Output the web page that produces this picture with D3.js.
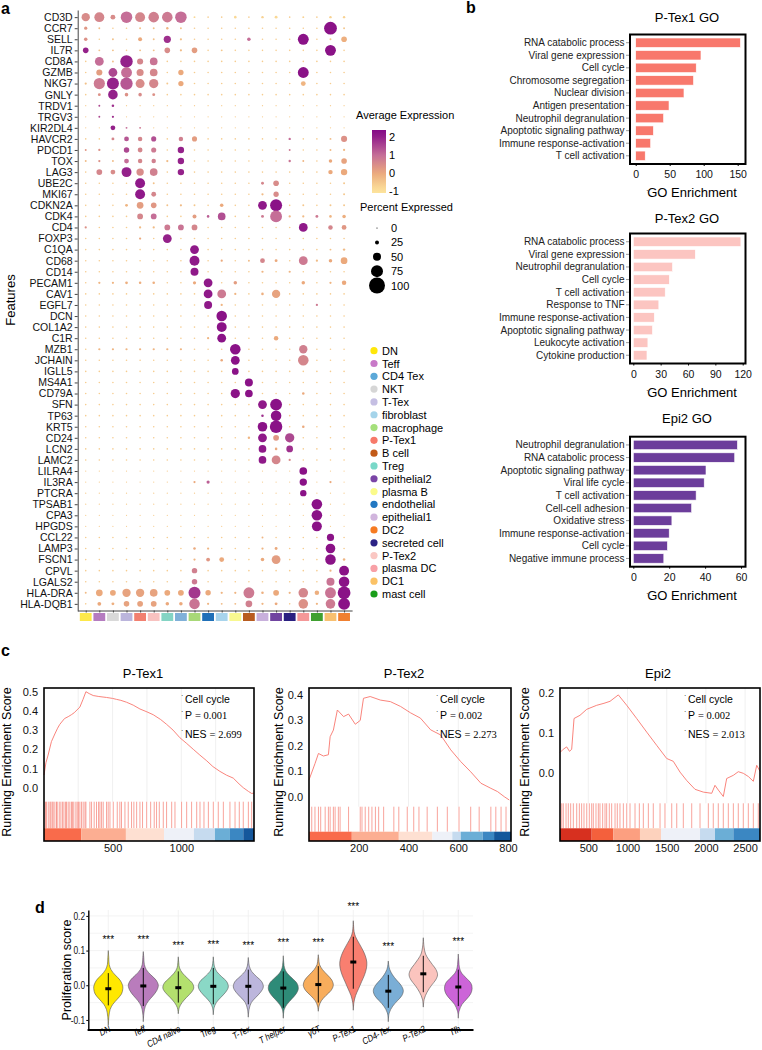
<!DOCTYPE html>
<html>
<head>
<meta charset="utf-8">
<script src="https://cdn.jsdelivr.net/npm/d3@7"></script>
<style>
  body { margin: 0; background: #fff; }
  text { font-family: "Liberation Sans", Arial, sans-serif; }
</style>
</head>
<body>
<div id="fig"></div>
<script>
// ---------- panel a : dot plot ----------
const genes = ["CD3D","CCR7","SELL","IL7R","CD8A","GZMB","NKG7","GNLY","TRDV1","TRGV3","KIR2DL4","HAVCR2","PDCD1","TOX","LAG3","UBE2C","MKI67","CDKN2A","CDK4","CD4","FOXP3","C1QA","CD68","CD14","PECAM1","CAV1","EGFL7","DCN","COL1A2","C1R","MZB1","JCHAIN","IGLL5","MS4A1","CD79A","SFN","TP63","KRT5","CD24","LCN2","LAMC2","LILRA4","IL3RA","PTCRA","TPSAB1","CPA3","HPGDS","CCL22","LAMP3","FSCN1","CPVL","LGALS2","HLA-DRA","HLA-DQB1"];

const cellTypes = ["DN","Teff","NKT","T-Tex","P-Tex1","P-Tex2","Treg","CD4 Tex","macrophage","endothelial","fibroblast","plasma B","B cell","epithelial1","epithelial2","secreted cell","plasma DC","mast cell","DC1","DC2"];
const stripColors = ["#fde84a","#b57cc0","#d9d9d9","#bbb5dc","#f28070","#f8c2c0","#84d4c4","#80b0d8","#a8d878","#2070b8","#a8d4ec","#f8f890","#b85c20","#c8b0dc","#7044a0","#2a2080","#f49898","#40a030","#f8c070","#f08030"];

const legendTypes = ["DN","Teff","CD4 Tex","NKT","T-Tex","fibroblast","macrophage","P-Tex1","B cell","Treg","epithelial2","plasma B","endothelial","epithelial1","DC2","secreted cell","P-Tex2","plasma DC","DC1","mast cell"];
const legendColors = ["#ffe70a","#c879c8","#5ba8d8","#d6d6d6","#c5bfe3","#a5d4ea","#a5e07b","#f7796a","#c25a17","#79d8c8","#7a44a6","#fbfb8a","#2278c2","#d1b5dd","#f67b22","#2b2285","#fac7c3","#f8a0a6","#fbc266","#1a9e1a"];

// percent expressed, one row per gene, columns in cellTypes order
const pctRows = [
  [52,62,30,72,62, 66,66,72,12,10, 10,16,10,15,18, 10,12,10,15,15],
  [20,12,10,10,12, 12,15,12,10,10, 10,10,10,10,10, 10,10,10,80,12],
  [22,10,12,10,25, 12,45,14,10,10, 10,10,22,10,10, 10,68,10,12,35],
  [35,12,12,10,12, 12,35,14,35,10, 12,10,10,10,10, 10,10,10,68,10],
  [10,55,12,78,38, 48,10,10,10,10, 10,10,10,10,10, 10,10,10,10,10],
  [10,38,55,68,44, 48,10,33,10,10, 10,10,10,10,10, 10,68,10,10,10],
  [14,70,75,77,56, 58,12,33,10,10, 10,10,10,10,10, 10,30,10,10,10],
  [10,18,60,22,22, 18,10,10,10,10, 10,10,10,10,10, 10,10,10,10,10],
  [8,12,16,8,8, 8,8,8,8,8, 8,8,8,8,8, 8,8,8,8,8],
  [8,12,14,8,8, 8,8,8,8,8, 8,8,8,8,8, 8,8,8,8,8],
  [8,8,30,12,12, 8,8,8,8,8, 8,8,8,8,8, 8,8,8,8,8],
  [10,10,18,30,28, 32,10,28,32,10, 10,10,10,10,10, 15,10,10,12,38],
  [12,14,10,34,30, 32,10,40,10,10, 10,10,10,10,10, 12,10,10,12,14],
  [12,14,12,30,28, 28,14,40,10,10, 10,10,10,10,10, 15,12,10,22,35],
  [10,36,30,62,46, 48,10,40,10,10, 10,10,10,10,10, 10,10,10,28,40],
  [10,10,10,10,62, 12,10,10,10,10, 10,10,10,18,35, 10,10,10,10,12],
  [10,10,10,10,62, 30,10,10,10,10, 10,10,10,14,33, 10,10,10,10,12],
  [10,10,10,18,42, 35,12,14,12,10, 22,10,10,55,75, 10,12,10,12,12],
  [10,10,10,10,36, 36,10,10,25,16, 48,10,10,18,74, 14,14,18,16,22],
  [14,10,10,10,14, 14,36,36,36,10, 10,10,10,10,10, 10,55,10,28,30],
  [10,10,10,10,14, 10,55,10,10,10, 10,10,10,10,10, 10,10,10,10,10],
  [10,10,10,10,10, 10,10,10,55,10, 10,10,10,10,10, 10,10,10,12,15],
  [10,10,10,10,10, 10,10,10,62,10, 14,10,12,30,18, 10,55,14,22,42],
  [10,10,10,10,10, 10,10,10,50,10, 10,10,10,14,10, 14,10,10,10,10],
  [10,14,14,17,16, 16,10,10,20,55, 10,22,10,10,10, 10,22,10,14,28],
  [10,10,10,10,10, 10,10,10,10,55, 55,14,10,16,52, 10,10,10,10,10],
  [10,10,10,10,10, 10,10,10,10,50, 14,10,10,10,10, 10,10,14,10,10],
  [10,10,10,10,10, 10,10,10,10,10, 66,10,10,10,10, 10,10,10,10,10],
  [10,10,10,10,10, 10,10,10,10,10, 62,10,10,10,10, 10,10,10,10,10],
  [10,10,10,10,10, 10,10,10,10,14, 55,10,10,10,28, 10,10,10,10,10],
  [10,14,14,14,14, 14,14,14,10,10, 10,66,10,10,10, 10,52,10,10,10],
  [10,10,10,10,10, 10,10,10,10,10, 16,55,10,10,10, 10,66,10,10,10],
  [10,10,10,10,10, 10,10,10,10,10, 10,42,10,10,10, 10,10,10,10,10],
  [10,10,10,10,10, 10,10,10,10,10, 10,10,50,10,10, 10,10,10,10,10],
  [10,10,10,10,10, 10,10,10,10,10, 10,58,48,10,10, 10,16,10,10,10],
  [10,10,10,10,10, 10,10,10,10,10, 10,10,10,55,74, 10,10,10,10,10],
  [10,10,10,10,10, 10,10,10,10,10, 10,10,10,16,66, 10,10,10,10,10],
  [10,10,10,10,10, 10,10,10,10,10, 10,10,10,60,78, 10,16,10,10,10],
  [10,10,10,10,10, 10,10,10,10,10, 10,10,15,55,36, 58,10,10,10,10],
  [10,10,10,10,10, 10,10,10,10,10, 10,10,10,48,16, 42,10,10,10,10],
  [10,10,10,10,10, 10,10,10,10,10, 10,10,10,48,55, 14,10,10,10,10],
  [8,8,8,8,8, 8,8,8,8,8, 8,8,8,8,8, 8,48,8,8,8],
  [8,8,8,8,8, 8,8,8,14,20, 8,8,8,8,8, 8,46,8,14,8],
  [8,8,8,8,8, 8,8,8,8,8, 8,8,8,8,8, 8,40,8,8,8],
  [8,8,8,8,8, 8,8,8,8,8, 8,8,8,8,8, 8,8,66,8,8],
  [8,8,8,8,8, 8,8,8,8,8, 8,8,8,8,8, 8,8,66,8,8],
  [8,8,8,8,8, 8,8,8,8,8, 8,8,8,8,8, 8,8,62,8,8],
  [10,10,10,10,10, 10,10,10,10,10, 10,10,10,12,10, 10,10,10,45,10],
  [10,10,10,10,10, 10,10,10,16,14, 10,10,10,14,18, 10,10,10,60,10],
  [10,10,10,10,10, 10,10,10,14,24, 30,10,10,22,55, 10,10,10,66,16],
  [10,10,10,10,10, 10,10,10,34,10, 10,10,10,10,10, 10,10,10,14,62],
  [10,10,10,10,10, 10,10,10,34,10, 10,10,10,10,10, 10,10,10,50,66],
  [12,42,36,52,52, 48,36,36,75,34, 14,14,68,16,36, 14,60,28,68,80],
  [10,24,18,35,36, 36,22,22,66,14, 12,12,42,14,18, 10,60,14,60,74]
];

// average expression (scaled), same layout
const expRows = [
  [.5,.6,.5,1,.6, .7,.8,1,-.8,-.6, -.6,-.8,-.6,-.7,-.8, -.6,-.7,-.6,-.7,-.7],
  [.3,-.3,-.6,-.6,-.4, -.4,-.2,-.4,-.6,-.6, -.6,-.6,-.6,-.6,-.6, -.6,-.6,-.6,2.2,-.5],
  [.4,-.6,-.4,-.6,0, -.4,1.8,-.4,-.6,-.6, -.6,-.6,1,-.6,-.6, -.6,2.2,-.6,-.5,-.1],
  [2,-.4,-.4,-.6,-.4, -.4,.5,-.3,.2,-.6, -.5,-.6,-.6,-.6,-.6, -.6,-.6,-.6,2.2,-.6],
  [-.6,1,-.4,2,.6, .9,-.6,-.6,-.6,-.6, -.6,-.6,-.6,-.6,-.6, -.6,-.6,-.6,-.6,-.6],
  [-.6,.2,1.5,1,.5, .6,-.6,0,-.6,-.6, -.6,-.6,-.6,-.6,-.6, -.6,2.2,-.6,-.6,-.6],
  [-.4,.8,2,1.3,.5, .6,-.5,0,-.6,-.6, -.6,-.6,-.6,-.6,-.6, -.6,-.2,-.6,-.6,-.6],
  [-.6,.4,2,.4,.5, .4,-.6,-.6,-.6,-.6, -.6,-.6,-.6,-.6,-.6, -.6,-.6,-.6,-.6,-.6],
  [-.6,1.5,1.8,-.6,-.6, -.6,-.6,-.6,-.6,-.6, -.6,-.6,-.6,-.6,-.6, -.6,-.6,-.6,-.6,-.6],
  [-.6,1.5,1.8,-.6,-.6, -.6,-.6,-.6,-.6,-.6, -.6,-.6,-.6,-.6,-.6, -.6,-.6,-.6,-.6,-.6],
  [-.6,-.6,2,1,.8, -.6,-.6,-.6,-.6,-.6, -.6,-.6,-.6,-.6,-.6, -.6,-.6,-.6,-.6,-.6],
  [-.6,-.6,.6,1.3,.6, 1.4,-.6,.7,.2,-.6, -.6,-.6,-.6,-.6,-.6, 1,-.6,-.6,-.3,.4],
  [.3,.4,-.6,1.5,.6, .8,-.6,2,-.6,-.6, -.6,-.6,-.6,-.6,-.6, .8,-.6,-.6,-.3,-.3],
  [-.3,.4,-.3,1,.6, .7,-.3,2,-.6,-.6, -.6,-.6,-.6,-.6,-.6, .9,-.2,-.6,0,.1],
  [-.6,.6,.5,2,.5, .7,-.6,2,-.6,-.6, -.6,-.6,-.6,-.6,-.6, -.6,-.6,-.6,0,0],
  [-.6,-.6,-.6,-.6,2.1, -.4,-.6,-.6,-.6,-.6, -.6,-.6,-.6,.6,.5, -.6,-.6,-.6,-.6,-.5],
  [-.6,-.6,-.6,-.6,2.1, .6,-.6,-.6,-.6,-.6, -.6,-.6,-.6,-.3,.5, -.6,-.6,-.6,-.6,-.5],
  [-.6,-.6,-.6,-.2,.2, .3,-.4,-.3,-.5,-.6, 0,-.6,-.6,2.1,2.2, -.6,-.5,-.6,-.5,-.5],
  [-.6,-.6,-.6,-.6,.6, 1,-.6,-.6,.2,1.2, 1.4,-.6,-.6,.8,1, -.2,-.3,.8,-.2,-.1],
  [.4,-.6,-.6,-.6,-.3, -.3,.8,.9,.6,-.6, -.6,-.6,-.6,-.6,-.6, -.6,2.1,-.6,.6,.3],
  [-.6,-.6,-.6,-.6,0, -.6,2,-.6,-.6,-.6, -.6,-.6,-.6,-.6,-.6, -.6,-.6,-.6,-.6,-.6],
  [-.6,-.6,-.6,-.6,-.6, -.6,-.6,-.6,2.1,-.6, -.6,-.6,-.6,-.6,-.6, -.6,-.6,-.6,-.4,-.3],
  [-.6,-.6,-.6,-.6,-.6, -.6,-.6,-.6,2.1,-.6, 0,-.6,-.3,.6,0, -.6,.8,-.3,0,0],
  [-.6,-.6,-.6,-.6,-.6, -.6,-.6,-.6,2.1,-.6, -.6,-.6,-.6,-.2,-.6, -.2,-.6,-.6,-.6,-.6],
  [-.6,-.2,-.2,-.1,-.1, -.1,-.6,-.6,0,2.1, -.6,.2,-.6,-.6,-.6, -.6,0,-.6,-.2,0],
  [-.6,-.6,-.6,-.6,-.6, -.6,-.6,-.6,-.6,2.1, .8,-.2,-.6,-.1,.1, -.6,-.6,-.6,-.6,-.6],
  [-.6,-.6,-.6,-.6,-.6, -.6,-.6,-.6,-.6,2.1, -.2,-.6,-.6,-.6,-.6, -.6,-.6,.8,-.6,-.6],
  [-.6,-.6,-.6,-.6,-.6, -.6,-.6,-.6,-.6,-.6, 2.2,-.6,-.6,-.6,-.6, -.6,-.6,-.6,-.6,-.6],
  [-.6,-.6,-.6,-.6,-.6, -.6,-.6,-.6,-.6,-.6, 2.2,-.6,-.6,-.6,-.6, -.6,-.6,-.6,-.6,-.6],
  [-.6,-.6,-.6,-.6,-.6, -.6,-.6,-.6,-.6,-.2, 2.2,-.6,-.6,-.6,0, -.6,-.6,-.6,-.6,-.6],
  [-.6,-.2,-.2,-.2,-.2, -.2,-.2,-.2,-.6,-.6, -.6,2.2,-.6,-.6,-.6, -.6,.7,-.6,-.6,-.6],
  [-.6,-.6,-.6,-.6,-.6, -.6,-.6,-.6,-.6,-.6, 0,2.2,-.6,-.6,-.6, -.6,.6,-.6,-.6,-.6],
  [-.6,-.6,-.6,-.6,-.6, -.6,-.6,-.6,-.6,-.6, -.6,2.2,-.6,-.6,-.6, -.6,-.6,-.6,-.6,-.6],
  [-.6,-.6,-.6,-.6,-.6, -.6,-.6,-.6,-.6,-.6, -.6,-.6,2.2,-.6,-.6, -.6,-.6,-.6,-.6,-.6],
  [-.6,-.6,-.6,-.6,-.6, -.6,-.6,-.6,-.6,-.6, -.6,2.2,2.2,-.6,-.6, -.6,0,-.6,-.6,-.6],
  [-.6,-.6,-.6,-.6,-.6, -.6,-.6,-.6,-.6,-.6, -.6,-.6,-.6,2.1,2.2, -.6,-.6,-.6,-.6,-.6],
  [-.6,-.6,-.6,-.6,-.6, -.6,-.6,-.6,-.6,-.6, -.6,-.6,-.6,1.8,2.2, -.6,-.6,-.6,-.6,-.6],
  [-.6,-.6,-.6,-.6,-.6, -.6,-.6,-.6,-.6,-.6, -.6,-.6,-.6,2.2,2.2, -.6,0,-.6,-.6,-.6],
  [-.6,-.6,-.6,-.6,-.6, -.6,-.6,-.6,-.6,-.6, -.6,-.6,-.2,2.1,.3, 1.5,-.6,-.6,-.6,-.6],
  [-.6,-.6,-.6,-.6,-.6, -.6,-.6,-.6,-.6,-.6, -.6,-.6,-.6,2.1,0, 1.8,-.6,-.6,-.6,-.6],
  [-.6,-.6,-.6,-.6,-.6, -.6,-.6,-.6,-.6,-.6, -.6,-.6,-.6,2.1,.6, .5,-.6,-.6,-.6,-.6],
  [-.6,-.6,-.6,-.6,-.6, -.6,-.6,-.6,-.6,-.6, -.6,-.6,-.6,-.6,-.6, -.6,2.2,-.6,-.6,-.6],
  [-.6,-.6,-.6,-.6,-.6, -.6,-.6,-.6,0,1.2, -.6,-.6,-.6,-.6,-.6, -.6,2.2,-.6,0,-.6],
  [-.6,-.6,-.6,-.6,-.6, -.6,-.6,-.6,-.6,-.6, -.6,-.6,-.6,-.6,-.6, -.6,2.2,-.6,-.6,-.6],
  [-.6,-.6,-.6,-.6,-.6, -.6,-.6,-.6,-.6,-.6, -.6,-.6,-.6,-.6,-.6, -.6,-.6,2.2,-.6,-.6],
  [-.6,-.6,-.6,-.6,-.6, -.6,-.6,-.6,-.6,-.6, -.6,-.6,-.6,-.6,-.6, -.6,-.6,2.2,-.6,-.6],
  [-.6,-.6,-.6,-.6,-.6, -.6,-.6,-.6,-.6,-.6, -.6,-.6,-.6,-.6,-.6, -.6,-.6,2.2,-.6,-.6],
  [-.6,-.6,-.6,-.6,-.6, -.6,-.6,-.6,-.6,-.6, -.6,-.6,-.6,-.2,-.6, -.6,-.6,-.6,2.2,-.6],
  [-.6,-.6,-.6,-.6,-.6, -.6,-.6,-.6,0,-.2, -.6,-.6,-.6,-.2,0, -.6,-.6,-.6,2.2,-.6],
  [-.6,-.6,-.6,-.6,-.6, -.6,-.6,-.6,-.2,.3, 0,-.6,-.6,0,.2, -.6,-.6,-.6,2.2,-.2],
  [-.6,-.6,-.6,-.6,-.6, -.6,-.6,-.6,.7,-.6, -.6,-.6,-.6,-.6,-.6, -.6,-.6,-.6,-.2,2.2],
  [-.6,-.6,-.6,-.6,-.6, -.6,-.6,-.6,.8,-.6, -.6,-.6,-.6,-.6,-.6, -.6,-.6,-.6,.9,2.2],
  [-.3,0,0,.1,.1, .1,0,0,1.7,0, -.2,-.2,.8,-.1,0, -.2,.6,-.1,.9,2.2],
  [-.6,0,-.1,.1,.1, .1,0,0,.9,-.2, -.3,-.3,.7,-.2,0, -.6,.4,-.2,.8,2.2]
];

const expTicks = [-1, 0, 1, 2];
const pctTicks = [0, 25, 50, 75, 100];

// ---------- panel b : GO bars ----------
const ptex1Terms = ["RNA catabolic process","Viral gene expression","Cell cycle","Chromosome segregation","Nuclear division","Antigen presentation","Neutrophil degranulation","Apoptotic signaling pathway","Immune response-activation","T cell activation"];
const ptex1Go = [154, 96, 89, 85, 71, 49, 41, 26, 22, 14];
const ptex2Terms = ["RNA catabolic process","Viral gene expression","Neutrophil degranulation","Cell cycle","T cell activation","Response to TNF","Immune response-activation","Apoptotic signaling pathway","Leukocyte activation","Cytokine production"];
const ptex2Go = [118, 68, 43, 39.5, 35, 28, 23, 21, 16, 15];
const epi2Terms = ["Neutrophil degranulation","RNA catabolic process","Apoptotic signaling pathway","Viral life cycle","T cell activation","Cell-cell adhesion","Oxidative stress","Immune response-activation","Cell cycle","Negative immune process"];
const epi2Go = [58, 56.5, 40.5, 39.5, 35, 32.5, 21.5, 20, 19, 17];

// ---------- panel c : GSEA ----------
const ptex1Curve = [[1,0.066],[15,0.13],[31,0.17],[55,0.24],[80,0.28],[100,0.31],[116,0.33],[150,0.36],[177,0.37],[200,0.38],[220,0.39],[262,0.42],[285,0.46],[306,0.5],[330,0.49],[359,0.48],[400,0.475],[456,0.47],[500,0.465],[529,0.46],[560,0.455],[602,0.445],[650,0.43],[699,0.41],[750,0.395],[796,0.38],[850,0.355],[893,0.33],[940,0.3],[990,0.26],[1040,0.23],[1087,0.2],[1135,0.17],[1185,0.14],[1230,0.11],[1281,0.085],[1330,0.065],[1378,0.05],[1420,0.02],[1451,0.0],[1490,-0.02],[1512,-0.03],[1529,-0.028]];
const ptex1Hits = [12,19,32,44,51,61,68,80,92,97,112,124,136,146,158,165,177,189,201,209,218,233,243,252,262,274,286,299,306,335,347,366,383,398,408,420,432,456,468,481,505,534,553,565,590,614,638,655,675,699,718,748,777,803,820,840,869,893,930,954,1002,1039,1075,1112,1136,1165,1197,1233,1269,1306,1354,1391,1422,1451,1488,1512];
const ptex1Bands = [[1,272,"#f96b4b"],[272,597,"#fcae92"],[597,874,"#fee0d2"],[874,1092,"#eef1f8"],[1092,1245,"#c6dbef"],[1245,1354,"#6baed6"],[1354,1451,"#3b87c2"],[1451,1529,"#15579b"]];

const ptex2Curve = [[0,0.066],[24,0.13],[38,0.17],[58,0.16],[78,0.165],[85,0.236],[98,0.262],[114,0.341],[139,0.315],[159,0.325],[186,0.285],[206,0.30],[219,0.387],[246,0.394],[287,0.38],[327,0.374],[368,0.355],[408,0.33],[448,0.309],[489,0.263],[529,0.243],[570,0.184],[610,0.138],[650,0.098],[691,0.053],[731,0.033],[758,0.02],[785,0.0],[805,-0.013]];
const ptex2Hits = [11,24,38,47,65,78,85,98,105,118,125,159,206,213,226,240,253,267,280,300,341,361,395,421,442,475,516,556,603,650,684,731,751,772,792];
const ptex2Bands = [[0,172,"#f96b4b"],[172,361,"#fcae92"],[361,496,"#fee0d2"],[496,576,"#eef1f8"],[576,610,"#c6dbef"],[610,698,"#6baed6"],[698,744,"#3b87c2"],[744,812,"#15579b"]];

const epi2Curve = [[139,0.052],[180,0.06],[224,0.066],[260,0.055],[288,0.06],[318,0.137],[394,0.145],[480,0.16],[607,0.17],[700,0.175],[777,0.18],[883,0.196],[990,0.17],[1117,0.137],[1245,0.103],[1372,0.07],[1500,0.037],[1584,0.03],[1670,0.003],[1755,-0.018],[1861,-0.04],[1967,-0.047],[2074,-0.05],[2116,-0.03],[2159,-0.042],[2222,-0.058],[2265,-0.013],[2350,-0.005],[2413,0.004],[2477,0.0],[2541,-0.008],[2605,-0.02],[2648,0.02],[2690,0.005]];
const epi2Hits = [161,181,216,245,275,309,352,386,415,445,480,513,543,564,598,628,649,683,713,734,768,798,841,870,904,947,990,1032,1096,1151,1202,1266,1329,1415,1478,1564,1628,1712,1819,1925,2031,2094,2158,2222,2286,2350,2413,2477,2541,2605,2668];
const epi2Bands = [[139,543,"#d7301f"],[543,819,"#f4603c"],[819,1159,"#fc9f80"],[1159,1427,"#fdd2bd"],[1427,1925,"#eef1f8"],[1925,2116,"#c6dbef"],[2116,2350,"#6baed6"],[2350,2690,"#3b87c2"]];

const gseaStats = [["Cell cycle","0.001","2.699"],["Cell cycle","0.002","2.273"],["Cell cycle","0.002","2.013"]];

// ---------- panel d : violins ----------
const violinGroups = ["DN","Teff","CD4 naive","Treg","T-Tex","T helper","γδT","P-Tex1","CD4-Tex","P-Tex2","Tfh"];
const violinColors = ["#ffe800","#b97cbc","#b3e06e","#8ad8c6","#bcb6dc","#2e8b78","#f8ad5c","#f97f70","#7aaed6","#fbc4be","#cc64d8"];
// [score, relative density]
const violinShapes = [
  [[-0.115,0],[-0.09,0.04],[-0.07,0.12],[-0.055,0.3],[-0.04,0.6],[-0.025,0.88],[-0.01,0.97],[0.0,0.95],[0.015,0.78],[0.03,0.45],[0.045,0.18],[0.06,0.06],[0.08,0.03],[0.1,0]],
  [[-0.105,0],[-0.08,0.04],[-0.06,0.14],[-0.045,0.35],[-0.03,0.65],[-0.015,0.9],[0.0,1.0],[0.015,0.85],[0.03,0.5],[0.045,0.2],[0.06,0.07],[0.08,0.03],[0.097,0]],
  [[-0.082,0],[-0.065,0.06],[-0.05,0.25],[-0.035,0.55],[-0.02,0.88],[-0.008,1.03],[0.005,0.95],[0.02,0.62],[0.035,0.28],[0.05,0.08],[0.065,0.03],[0.082,0]],
  [[-0.085,0],[-0.065,0.05],[-0.05,0.2],[-0.035,0.5],[-0.02,0.82],[-0.005,1.0],[0.01,0.9],[0.025,0.55],[0.04,0.22],[0.055,0.07],[0.082,0]],
  [[-0.092,0],[-0.07,0.05],[-0.05,0.2],[-0.035,0.5],[-0.02,0.82],[-0.005,1.0],[0.01,0.9],[0.025,0.55],[0.04,0.22],[0.055,0.07],[0.08,0]],
  [[-0.095,0],[-0.07,0.06],[-0.055,0.25],[-0.04,0.55],[-0.025,0.85],[-0.01,1.0],[0.005,0.92],[0.02,0.6],[0.035,0.25],[0.05,0.08],[0.065,0.03],[0.085,0]],
  [[-0.075,0],[-0.06,0.05],[-0.045,0.2],[-0.03,0.5],[-0.015,0.85],[0.0,1.0],[0.015,0.9],[0.03,0.6],[0.045,0.28],[0.06,0.08],[0.075,0.03],[0.088,0]],
  [[-0.072,0],[-0.05,0.04],[-0.03,0.15],[-0.01,0.35],[0.01,0.55],[0.03,0.75],[0.05,0.88],[0.067,0.9],[0.085,0.8],[0.1,0.65],[0.12,0.4],[0.14,0.15],[0.155,0.05],[0.17,0.02],[0.186,0]],
  [[-0.105,0],[-0.08,0.06],[-0.06,0.3],[-0.045,0.6],[-0.03,0.9],[-0.015,1.0],[0.0,0.85],[0.015,0.55],[0.03,0.28],[0.045,0.1],[0.055,0.04],[0.07,0]],
  [[-0.063,0],[-0.04,0.06],[-0.02,0.25],[0.0,0.55],[0.015,0.82],[0.03,0.95],[0.045,0.85],[0.06,0.6],[0.075,0.35],[0.09,0.15],[0.11,0.05],[0.137,0]],
  [[-0.095,0],[-0.075,0.05],[-0.055,0.25],[-0.04,0.55],[-0.025,0.82],[-0.01,0.92],[0.005,0.85],[0.02,0.55],[0.035,0.22],[0.05,0.08],[0.07,0.03],[0.09,0]]
];
const violinMedians = [-0.01,-0.002,-0.007,-0.003,-0.003,-0.008,0.002,0.067,-0.017,0.033,-0.005];
const violinLines = [[-0.058,0.035],[-0.06,0.05],[-0.05,0.04],[-0.055,0.05],[-0.055,0.045],[-0.065,0.04],[-0.05,0.055],[-0.01,0.14],[-0.065,0.03],[-0.02,0.085],[-0.06,0.045]];
const starLevels = [0.137,0.137,0.12,0.122,0.12,0.127,0.127,0.23,0.117,null,0.131];
const scoreTicks = [-0.1, 0.0, 0.1, 0.2];

// =====================================================
const svg = d3.select("#fig").append("svg")
  .attr("width", 762).attr("height", 1050);
svg.append("rect").attr("width", 762).attr("height", 1050).attr("fill", "#fff");

function panelLabel(t, x, y) {
  svg.append("text").attr("x", x).attr("y", y).text(t)
    .attr("font-size", 16).attr("font-weight", "bold");
}
panelLabel("a", 1, 14);
panelLabel("b", 466, 13);
panelLabel("c", 1, 656);
panelLabel("d", 35, 913);

// ---------- panel a ----------
const dotX = d3.scalePoint().domain(cellTypes).range([77.7, 352.1]).padding(0.59);
const dotY = d3.scalePoint().domain(genes).range([10, 611]).padding(0.645);
const rad = d3.scaleLinear().domain([0, 100]).range([0, 8]);
const expColor = d3.scaleLinear().domain([-1, 0, 1, 2.3])
  .range(["#fde49c", "#eba97c", "#c56e97", "#850a86"]).clamp(true);

const cells = [];
genes.forEach(function (g, i) {
  cellTypes.forEach(function (c, j) {
    cells.push({ gene: g, type: c, pct: pctRows[i][j], exp: expRows[i][j] });
  });
});

svg.append("g")
  .selectAll("circle")
  .data(cells)
  .join("circle")
  .attr("cx", d => dotX(d.type))
  .attr("cy", d => dotY(d.gene))
  .attr("r", d => rad(d.pct))
  .attr("fill", d => expColor(d.exp));

const yAxisA = svg.append("g")
  .attr("transform", "translate(77.7,0)")
  .call(d3.axisLeft(dotY).tickSize(3).tickSizeOuter(0).tickPadding(2));
yAxisA.selectAll("text").attr("font-size", 10.5).attr("fill", "#111")
  .attr("font-family", "'Liberation Sans', Arial, sans-serif");
yAxisA.selectAll("line, path").attr("stroke", "#444");

const xAxisA = svg.append("g")
  .attr("transform", "translate(0,610.5)")
  .call(d3.axisBottom(dotX).tickSize(2).tickSizeOuter(0).tickFormat(""));
xAxisA.selectAll("line, path").attr("stroke", "#444");

svg.append("g").selectAll("rect")
  .data(cellTypes)
  .join("rect")
  .attr("x", d => dotX(d) - 5.9)
  .attr("y", 613)
  .attr("width", 11.8)
  .attr("height", 8)
  .attr("fill", (d, i) => stripColors[i]);

svg.append("text")
  .attr("transform", "translate(15,300) rotate(-90)")
  .attr("text-anchor", "middle")
  .attr("font-size", 13)
  .text("Features");

// average expression legend
svg.append("text").attr("x", 356).attr("y", 119).attr("font-size", 11).text("Average Expression");
const grad = svg.append("defs").append("linearGradient")
  .attr("id", "expGrad").attr("x1", 0).attr("y1", 1).attr("x2", 0).attr("y2", 0);
const legExp = d3.scaleLinear().domain([-1.1, 2.4]).range([193, 130]);
d3.range(0, 1.0001, 0.1).forEach(function (t) {
  grad.append("stop").attr("offset", t).attr("stop-color", expColor(-1.1 + t * 3.5));
});
svg.append("rect").attr("x", 372).attr("y", 130).attr("width", 14).attr("height", 63)
  .attr("fill", "url(#expGrad)");
svg.append("g").selectAll("text")
  .data(expTicks)
  .join("text")
  .attr("x", 389)
  .attr("y", d => legExp(d) + 4)
  .attr("font-size", 11)
  .text(d => d);

// percent expressed legend
svg.append("text").attr("x", 360).attr("y", 211).attr("font-size", 11).text("Percent Expressed");
const pctLegY = d3.scalePoint().domain(pctTicks).range([228, 285.5]);
svg.append("g").selectAll("circle")
  .data(pctTicks)
  .join("circle")
  .attr("cx", 377)
  .attr("cy", d => pctLegY(d))
  .attr("r", d => Math.max(rad(d), 0.6))
  .attr("fill", "#000");
svg.append("g").selectAll("text")
  .data(pctTicks)
  .join("text")
  .attr("x", 391)
  .attr("y", d => pctLegY(d) + 4)
  .attr("font-size", 11)
  .text(d => d);

// cell type legend
const typeLegY = d3.scalePoint().domain(legendTypes).range([350.7, 594]);
const typeLeg = svg.append("g").selectAll("g")
  .data(legendTypes)
  .join("g")
  .attr("transform", d => `translate(374,${typeLegY(d)})`);
typeLeg.append("circle").attr("r", 3.6).attr("fill", (d, i) => legendColors[i]);
typeLeg.append("text").attr("x", 8).attr("y", 4).attr("font-size", 11).text(d => d);

// ---------- panel b ----------
function goChart(title, terms, values, color, top, bottom, titleY, x0, tickMax, ticks) {
  const xs = d3.scaleLinear().domain([0, tickMax]).range([x0.zero, x0.end]);
  const ys = d3.scaleBand().domain(terms).range([top + 2, bottom - 2])
    .paddingInner(0.25).paddingOuter(0.12);
  const g = svg.append("g");

  g.append("text").attr("x", 687).attr("y", titleY).attr("text-anchor", "middle")
    .attr("font-size", 13).text(title);

  g.selectAll("rect.bar")
    .data(terms)
    .join("rect")
    .attr("class", "bar")
    .attr("x", xs(0))
    .attr("y", d => ys(d))
    .attr("width", (d, i) => xs(values[i]) - xs(0))
    .attr("height", ys.bandwidth())
    .attr("fill", color)
    .attr("stroke", "#fff")
    .attr("stroke-width", 0.6);

  g.selectAll("text.term")
    .data(terms)
    .join("text")
    .attr("class", "term")
    .attr("x", 624.5)
    .attr("y", d => ys(d) + ys.bandwidth() / 2 + 3.5)
    .attr("text-anchor", "end")
    .attr("font-size", 10)
    .attr("fill", "#222")
    .text(d => d);

  g.selectAll("line.tk")
    .data(terms)
    .join("line")
    .attr("class", "tk")
    .attr("x1", 626).attr("x2", 629)
    .attr("y1", d => ys(d) + ys.bandwidth() / 2)
    .attr("y2", d => ys(d) + ys.bandwidth() / 2)
    .attr("stroke", "#555").attr("stroke-width", 0.6);

  g.append("rect").attr("x", 630).attr("y", top)
    .attr("width", 115.5).attr("height", bottom - top)
    .attr("fill", "none").attr("stroke", "#000").attr("stroke-width", 2);

  const ax = g.append("g").attr("transform", `translate(0,${bottom})`)
    .call(d3.axisBottom(xs).tickValues(ticks).tickSize(2).tickPadding(5));
  ax.select(".domain").remove();
  ax.selectAll("text").attr("font-size", 10.5).attr("fill", "#111")
    .attr("font-family", "'Liberation Sans', Arial, sans-serif");

  g.append("text").attr("x", 646).attr("y", bottom + 29).attr("font-size", 8).text("·");
  g.append("text").attr("x", 692).attr("y", bottom + 33).attr("text-anchor", "middle")
    .attr("font-size", 13).text("GO Enrichment");
}

goChart("P-Tex1 GO", ptex1Terms, ptex1Go, "#f8786c", 34.5, 164, 22,
  { zero: 635.7, end: 737.7 }, 150, [0, 50, 100, 150]);
goChart("P-Tex2 GO", ptex2Terms, ptex2Go, "#fcc5c1", 233.5, 363.5, 223,
  { zero: 633.3, end: 742.7 }, 120, [0, 30, 60, 90, 120]);
goChart("Epi2 GO", epi2Terms, epi2Go, "#6c3d9b", 436.7, 566.7, 423,
  { zero: 633.3, end: 741 }, 60, [0, 20, 40, 60]);

// ---------- panel c ----------
function gsea(cfg) {
  const g = svg.append("g");
  const xs = d3.scaleLinear().domain(cfg.domain).range([cfg.x0, cfg.x1]);
  const ys = d3.scaleLinear().domain([0, cfg.topTick]).range([cfg.zeroY, cfg.topTickY]);

  g.append("text").attr("x", cfg.titleX).attr("y", 678).attr("text-anchor", "middle")
    .attr("font-size", 13).text(cfg.title);

  // faint grid
  g.selectAll("line.grid")
    .data(cfg.grid)
    .join("line")
    .attr("class", "grid")
    .attr("x1", d => xs(d)).attr("x2", d => xs(d))
    .attr("y1", 688).attr("y2", cfg.hitTop)
    .attr("stroke", "#ececec").attr("stroke-width", 0.8);

  g.append("path")
    .datum(cfg.curve)
    .attr("d", d3.line().x(d => xs(d[0])).y(d => ys(d[1])))
    .attr("fill", "none")
    .attr("stroke", "#f8766d")
    .attr("stroke-width", 0.9);

  g.selectAll("line.hit")
    .data(cfg.hits)
    .join("line")
    .attr("class", "hit")
    .attr("x1", d => xs(d)).attr("x2", d => xs(d))
    .attr("y1", cfg.hitTop).attr("y2", cfg.hitBottom)
    .attr("stroke", "#f4685a").attr("stroke-opacity", 0.6).attr("stroke-width", 1);

  g.selectAll("rect.band")
    .data(cfg.bands)
    .join("rect")
    .attr("class", "band")
    .attr("x", d => xs(d[0]))
    .attr("width", d => xs(d[1]) - xs(d[0]))
    .attr("y", cfg.hitBottom)
    .attr("height", 841 - cfg.hitBottom)
    .attr("fill", d => d[2]);

  g.append("rect").attr("x", cfg.x0).attr("y", 688)
    .attr("width", cfg.x1 - cfg.x0).attr("height", 153)
    .attr("fill", "none").attr("stroke", "#000").attr("stroke-width", 1.6);

  const ay = g.append("g").attr("transform", `translate(${cfg.x0},0)`)
    .call(d3.axisLeft(ys).tickValues(cfg.yTicks).tickFormat(d3.format(".1f")).tickSize(0).tickPadding(6));
  ay.select(".domain").remove();
  ay.selectAll("text").attr("font-size", 11).attr("fill", "#111")
    .attr("font-family", "'Liberation Sans', Arial, sans-serif");

  const ax = g.append("g").attr("transform", "translate(0,841)")
    .call(d3.axisBottom(xs).tickValues(cfg.xTicks).tickFormat(d3.format("d")).tickSize(0).tickPadding(3));
  ax.select(".domain").remove();
  ax.selectAll("text").attr("font-size", 11).attr("fill", "#111")
    .attr("font-family", "'Liberation Sans', Arial, sans-serif");

  g.append("text")
    .attr("transform", `translate(${cfg.labelX},762) rotate(-90)`)
    .attr("text-anchor", "middle").attr("font-size", 12.5)
    .text("Running Enrichment Score");

  const st = cfg.stats;
  const rows = [
    { y: 703, label: st[0], val: null },
    { y: 719, label: "P", val: "= " + st[1] },
    { y: 738, label: "NES", val: "= " + st[2] }
  ];
  rows.forEach(function (r) {
    g.append("text").attr("x", cfg.annX - 4).attr("y", r.y - 5).attr("font-size", 7).text("·");
    const t = g.append("text").attr("x", cfg.annX).attr("y", r.y).attr("font-size", 10.5);
    t.append("tspan").text(r.label);
    if (r.val) {
      t.append("tspan").attr("font-family", "'Liberation Serif', 'Times New Roman', serif")
        .attr("dx", 3).text(r.val);
    }
  });
}

gsea({
  title: "P-Tex1", titleX: 143, x0: 44, x1: 254, domain: [1, 1529],
  zeroY: 787.7, topTick: 0.5, topTickY: 691.7, hitTop: 801.7, hitBottom: 828.3,
  yTicks: [0, 0.1, 0.2, 0.3, 0.4, 0.5], xTicks: [500, 1000], grid: [250, 500, 750, 1000, 1250],
  curve: ptex1Curve, hits: ptex1Hits, bands: ptex1Bands, stats: gseaStats[0],
  labelX: 11, annX: 185
});
gsea({
  title: "P-Tex2", titleX: 404, x0: 309, x1: 511, domain: [0, 812],
  zeroY: 796.7, topTick: 0.4, topTickY: 695, hitTop: 806.7, hitBottom: 831.7,
  yTicks: [0, 0.1, 0.2, 0.3, 0.4], xTicks: [200, 400, 600, 800], grid: [200, 400, 600],
  curve: ptex2Curve, hits: ptex2Hits, bands: ptex2Bands, stats: gseaStats[1],
  labelX: 283, annX: 440
});
gsea({
  title: "Epi2", titleX: 658, x0: 560, x1: 760, domain: [139, 2690],
  zeroY: 773.3, topTick: 0.2, topTickY: 693.3, hitTop: 803.3, hitBottom: 828.3,
  yTicks: [0, 0.1, 0.2], xTicks: [500, 1000, 1500, 2000, 2500], grid: [500, 1000, 1500, 2000, 2500],
  curve: epi2Curve, hits: epi2Hits, bands: epi2Bands, stats: gseaStats[2],
  labelX: 529, annX: 688
});

// ---------- panel d ----------
const vy = d3.scaleLinear().domain([-0.129, 0.217]).range([1030, 910]);
const vx = d3.scalePoint().domain(violinGroups).range([108.3, 458.3]);
const vw = d3.scaleLinear().domain([0, 1]).range([0, 15]);

const dg = svg.append("g");
dg.selectAll("line.hg")
  .data([-0.1, -0.05, 0, 0.05, 0.1, 0.15, 0.2])
  .join("line").attr("class", "hg")
  .attr("x1", 89).attr("x2", 473)
  .attr("y1", d => vy(d)).attr("y2", d => vy(d))
  .attr("stroke", "#f0f0f0").attr("stroke-width", 0.8);
dg.selectAll("line.vg")
  .data(violinGroups)
  .join("line").attr("class", "vg")
  .attr("x1", d => vx(d)).attr("x2", d => vx(d))
  .attr("y1", 910).attr("y2", 1030)
  .attr("stroke", "#f0f0f0").attr("stroke-width", 0.8);

violinGroups.forEach(function (grp, i) {
  const cx = vx(grp);
  const area = d3.area().curve(d3.curveCatmullRom)
    .y(d => vy(d[0]))
    .x0(d => cx - vw(d[1]))
    .x1(d => cx + vw(d[1]));
  dg.append("path").datum(violinShapes[i]).attr("d", area)
    .attr("fill", violinColors[i]).attr("stroke", "#555").attr("stroke-width", 0.6);
  dg.append("line").attr("x1", cx).attr("x2", cx)
    .attr("y1", vy(violinLines[i][0])).attr("y2", vy(violinLines[i][1]))
    .attr("stroke", "#000").attr("stroke-width", 0.9);
  dg.append("rect").attr("x", cx - 3).attr("y", vy(violinMedians[i]) - 1.5)
    .attr("width", 6).attr("height", 3).attr("fill", "#000");
  if (starLevels[i] !== null) {
    dg.append("text").attr("x", cx).attr("y", vy(starLevels[i]) + 5)
      .attr("text-anchor", "middle").attr("font-size", 10).text("***");
  }
});

const vAxisY = dg.append("g").attr("transform", "translate(88.3,0)")
  .call(d3.axisLeft(vy).tickValues(scoreTicks).tickFormat(d => d3.format(".1f")(d).replace("−", "-"))
    .tickSize(2).tickSizeOuter(0).tickPadding(2));
vAxisY.select(".domain").attr("stroke", "#000").attr("stroke-width", 1.4);
vAxisY.selectAll("text").attr("font-size", 10.5).attr("fill", "#111")
  .attr("font-family", "'Liberation Sans', Arial, sans-serif")
  .attr("transform", "scale(0.8,1)");

dg.append("line").attr("x1", 87.6).attr("x2", 473.5).attr("y1", 1030).attr("y2", 1030)
  .attr("stroke", "#000").attr("stroke-width", 2);

dg.selectAll("text.vlab")
  .data(violinGroups)
  .join("text")
  .attr("class", "vlab")
  .attr("transform", d => `translate(${vx(d) + 3},1031) rotate(-27) scale(0.82,1)`)
  .attr("text-anchor", "end")
  .attr("font-size", 9.5)
  .attr("font-style", "italic")
  .text(d => d);

dg.append("text")
  .attr("transform", "translate(71,970) rotate(-90)")
  .attr("text-anchor", "middle").attr("font-size", 12.5)
  .text("Proliferation score");
</script>
</body>
</html>
